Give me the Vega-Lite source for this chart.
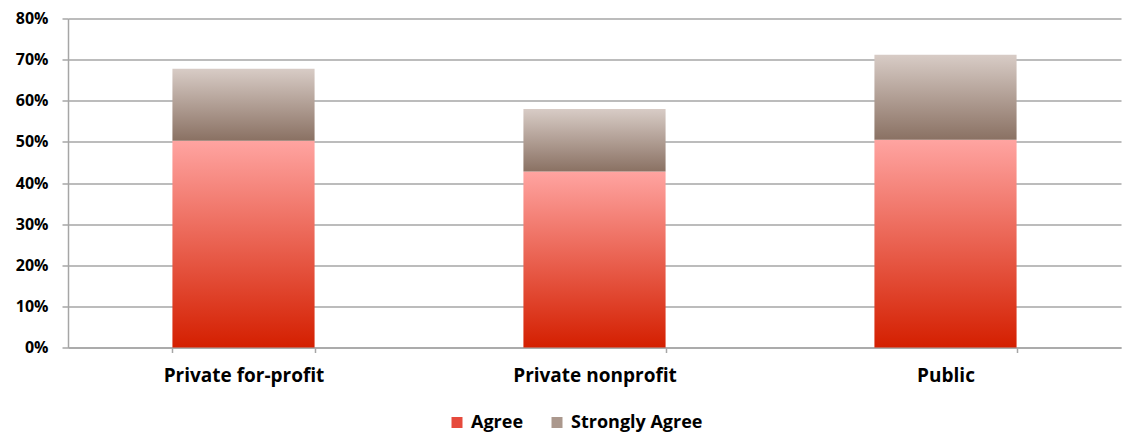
{
  "$schema": "https://vega.github.io/schema/vega-lite/v6.json",
  "width": 1053,
  "height": 329,
  "autosize": {"type": "none"},
  "padding": {"left": 68, "top": 18.5, "right": 7, "bottom": 86.5},
  "background": "white",
  "config": {
    "view": {"stroke": null},
    "font": "Open Sans",
    "axis": {
      "labelFont": "Open Sans",
      "labelFontWeight": "bold",
      "labelColor": "#000000",
      "domainColor": "#a6a6a6",
      "tickColor": "#a6a6a6",
      "gridColor": "#a6a6a6",
      "domainWidth": 1.5,
      "tickWidth": 1.5,
      "gridWidth": 1.5
    }
  },
  "data": {
    "values": [
      {"sector": "Private for-profit", "response": "Agree", "share": 0.503},
      {"sector": "Private for-profit", "response": "Strongly Agree", "share": 0.175},
      {"sector": "Private nonprofit", "response": "Agree", "share": 0.428},
      {"sector": "Private nonprofit", "response": "Strongly Agree", "share": 0.152},
      {"sector": "Public", "response": "Agree", "share": 0.505},
      {"sector": "Public", "response": "Strongly Agree", "share": 0.207}
    ]
  },
  "encoding": {
    "x": {
      "field": "sector",
      "type": "nominal",
      "sort": null,
      "title": null,
      "scale": {"paddingInner": 0.595, "paddingOuter": 0.2975},
      "axis": {
        "labelAngle": 0,
        "tickBand": "extent",
        "tickSize": 5,
        "labelPadding": 14,
        "labelFontSize": 19,
        "grid": false
      }
    },
    "y": {
      "field": "share",
      "type": "quantitative",
      "stack": "zero",
      "title": null,
      "scale": {"domain": [0, 0.8], "nice": false},
      "axis": {
        "format": ".0%",
        "values": [0, 0.1, 0.2, 0.3, 0.4, 0.5, 0.6, 0.7, 0.8],
        "tickSize": 6,
        "labelPadding": 14,
        "labelFontSize": 16,
        "grid": true
      }
    },
    "order": {"field": "response", "sort": "ascending"}
  },
  "layer": [
    {
      "mark": {"type": "bar"},
      "encoding": {
        "fill": {
          "condition": {
            "test": "datum.response === 'Agree'",
            "value": {"gradient": "linear", "x1": 0, "y1": 0, "x2": 0, "y2": 1, "stops": [{"offset": 0, "color": "#ffa4a1"}, {"offset": 1, "color": "#d41f00"}]}
          },
          "value": {"gradient": "linear", "x1": 0, "y1": 0, "x2": 0, "y2": 1, "stops": [{"offset": 0, "color": "#d8ccc6"}, {"offset": 1, "color": "#8a7163"}]}
        }
      }
    },
    {
      "mark": {"type": "bar", "opacity": 0},
      "encoding": {
        "color": {
          "field": "response",
          "type": "nominal",
          "title": null,
          "scale": {"domain": ["Agree", "Strongly Agree"], "range": ["#e64a3c", "#ab988d"]},
          "legend": {
            "orient": "none",
            "legendX": 380,
            "legendY": 395,
            "direction": "horizontal",
            "symbolType": "square",
            "symbolSize": 121,
            "symbolStrokeWidth": 0,
            "symbolOpacity": 1,
            "labelFont": "Open Sans",
            "labelFontWeight": "bold",
            "labelFontSize": 18,
            "labelColor": "#000000",
            "columnPadding": 24,
            "labelOffset": 5,
            "encode": {
              "symbols": {
                "update": {
                  "fill": [
                    {"test": "datum.value === 'Agree'", "value": {"gradient": "linear", "x1": 0, "y1": 0, "x2": 0, "y2": 1, "stops": [{"offset": 0, "color": "#ffa4a1"}, {"offset": 1, "color": "#d41f00"}]}},
                    {"value": {"gradient": "linear", "x1": 0, "y1": 0, "x2": 0, "y2": 1, "stops": [{"offset": 0, "color": "#d8ccc6"}, {"offset": 1, "color": "#8a7163"}]}}
                  ]
                }
              }
            }
          }
        }
      }
    }
  ]
}
